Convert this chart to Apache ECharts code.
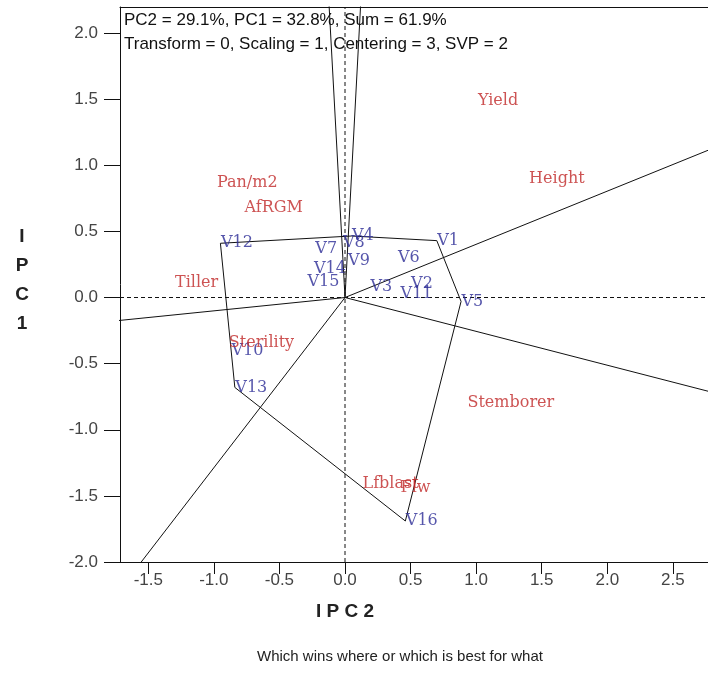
<!DOCTYPE html>
<html><head><meta charset="utf-8">
<script src="https://cdn.jsdelivr.net/npm/echarts@6/dist/echarts.min.js"></script>
<style>html,body{margin:0;padding:0;background:#fff}#c{width:708px;height:698px}</style>
</head><body><div id="c"></div>
<script>
const genotypes = ['V1','V2','V3','V4','V5','V6','V7','V8','V9','V10','V11','V12','V13','V14','V15','V16'];
const genoX = [0.70, 0.50, 0.19, 0.05, 0.885, 0.40, -0.23, -0.02, 0.02, -0.87, 0.42, -0.95, -0.84, -0.24, -0.29, 0.46];
const genoY = [0.43, 0.10, 0.08, 0.465, -0.03, 0.30, 0.37, 0.41, 0.28, -0.40, 0.03, 0.41, -0.68, 0.22, 0.12, -1.69];
const traits = ['Yield','Height','Pan/m2','AfRGM','Tiller','Sterility','Stemborer','Lfblast','Flw'];
const traitX = [1.01, 1.40, -0.98, -0.77, -1.30, -0.89, 0.93, 0.13, 0.42];
const traitY = [1.49, 0.90, 0.87, 0.68, 0.11, -0.34, -0.80, -1.41, -1.44];
const hullOrder = ['V1','V5','V16','V13','V12','V4'];
const xTicks = [-1.5,-1.0,-0.5,0,0.5,1.0,1.5,2.0,2.5];
const yTicks = [-2.0,-1.5,-1.0,-0.5,0,0.5,1.0,1.5,2.0];
const headerLines = ['PC2 = 29.1%, PC1 = 32.8%, Sum = 61.9%','Transform = 0, Scaling = 1, Centering = 3, SVP = 2'];
const xTitle = 'I P C 2';
const yTitle = 'I\nP\nC\n1';
const subTitle = 'Which wins where or which is best for what';

const XMIN = -1.7156, XMAX = 2.7678, YMIN = -2.0, YMAX = 2.1966;

const pts = {};
genotypes.forEach((g,i)=>{ pts[g] = [genoX[i], genoY[i]]; });
const hull = hullOrder.map(g => pts[g]);
const hullClosed = hull.concat([hull[0]]);

const raySeries = [];
for (let i = 0; i < hull.length; i++) {
  const a = hull[i], b = hull[(i+1) % hull.length];
  let nx = b[1]-a[1], ny = -(b[0]-a[0]);
  if (nx*a[0] + ny*a[1] < 0) { nx = -nx; ny = -ny; }
  const L = Math.hypot(nx, ny);
  raySeries.push({
    type:'line', data:[[0,0],[nx/L*8, ny/L*8]], symbol:'none', clip:true,
    lineStyle:{color:'#111', width:1}, silent:true, z:3
  });
}

const serif = '"DejaVu Serif","Liberation Serif",serif';
const sans = '"Liberation Sans",Arial,sans-serif';

const chart = echarts.init(document.getElementById('c'), null, {renderer:'canvas'});
chart.setOption({
  animation:false,
  backgroundColor:'#fff',
  grid:{left:120, top:7, right:0, height:555, show:false},
  xAxis:[{
    type:'value', min:XMIN, max:XMAX,
    axisLine:{show:true, onZero:false, lineStyle:{color:'#111', width:1}},
    axisTick:{show:true, customValues:xTicks, length:12, lineStyle:{color:'#111'}},
    axisLabel:{customValues:xTicks, formatter:v=>(+v).toFixed(1), margin:10, fontSize:17, fontFamily:sans, color:'#444'},
    splitLine:{show:false}
  },{
    type:'value', position:'top', min:XMIN, max:XMAX,
    axisLine:{show:true, onZero:false, lineStyle:{color:'#111', width:1}},
    axisTick:{show:false}, axisLabel:{show:false}, splitLine:{show:false}
  }],
  yAxis:{
    type:'value', min:YMIN, max:YMAX,
    axisLine:{show:true, onZero:false, lineStyle:{color:'#111', width:1}},
    axisTick:{show:true, customValues:yTicks, length:16, lineStyle:{color:'#111'}},
    axisLabel:{customValues:yTicks, formatter:v=>(+v).toFixed(1), margin:22, fontSize:17, fontFamily:sans, color:'#444'},
    splitLine:{show:false}
  },
  graphic:[
    {type:'text', x:124, y:20, style:{text:headerLines[0], font:'17px '+sans, fill:'#111', verticalAlign:'middle'}},
    {type:'text', x:124, y:44, style:{text:headerLines[1], font:'17px '+sans, fill:'#111', verticalAlign:'middle'}},
    {type:'text', x:22, y:222, style:{text:yTitle, font:'bold 19px '+sans, fill:'#222', align:'center', lineHeight:29}},
    {type:'text', x:345, y:612, style:{text:xTitle, font:'bold 19px '+sans, fill:'#222', align:'center', verticalAlign:'middle'}},
    {type:'text', x:400, y:657, style:{text:subTitle, font:'15px '+sans, fill:'#222', align:'center', verticalAlign:'middle'}}
  ],
  series:[
    {type:'line', data:[[0,YMIN],[0,YMAX]], symbol:'none', lineStyle:{color:'#111', width:1, type:[4,3]}, silent:true, z:2},
    {type:'line', data:[[XMIN,0],[XMAX,0]], symbol:'none', lineStyle:{color:'#111', width:1, type:[4,3]}, silent:true, z:2},
    {type:'line', data:hullClosed, symbol:'none', lineStyle:{color:'#111', width:1}, silent:true, z:3},
    ...raySeries,
    {type:'scatter', symbolSize:1, itemStyle:{color:'rgba(0,0,0,0)'}, silent:true, z:5,
      data:genotypes.map((g,i)=>({name:g, value:[genoX[i], genoY[i]]})),
      label:{show:true, position:'right', distance:0, formatter:p=>p.name, fontFamily:serif, fontSize:16, color:'#2c2c96'}},
    {type:'scatter', symbolSize:1, itemStyle:{color:'rgba(0,0,0,0)'}, silent:true, z:5,
      data:traits.map((t,i)=>({name:t, value:[traitX[i], traitY[i]]})),
      label:{show:true, position:'right', distance:0, formatter:p=>p.name, fontFamily:serif, fontSize:16, color:'#c02828'}}
  ]
});
</script>
</body></html>
